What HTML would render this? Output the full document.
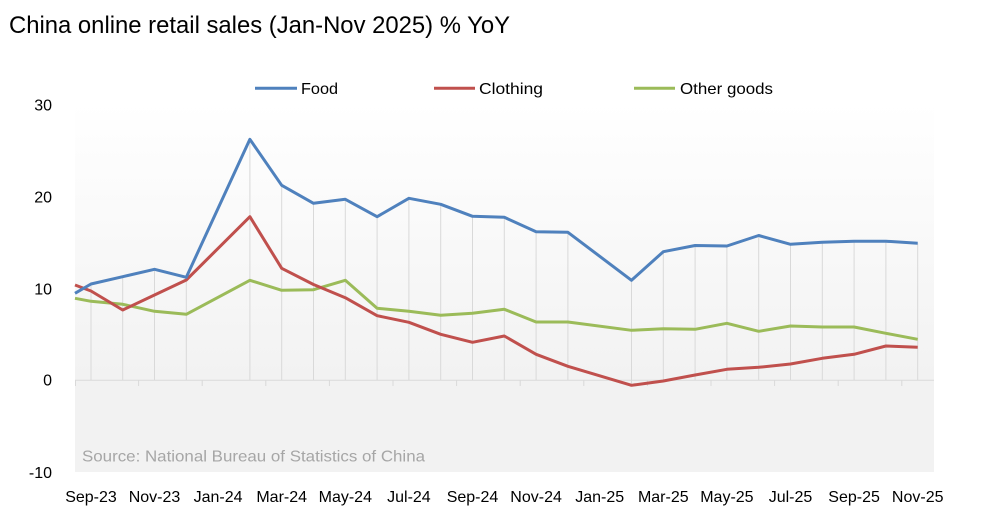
<!DOCTYPE html>
<html>
<head>
<meta charset="utf-8">
<style>
html,body{margin:0;padding:0;background:#fff;}
svg{display:block;}
text{font-family:"Liberation Sans",Arial,sans-serif;}
</style>
</head>
<body>
<svg width="999" height="515" viewBox="0 0 999 515" xmlns="http://www.w3.org/2000/svg">
<defs>
<linearGradient id="bg" x1="0" y1="103" x2="0" y2="380" gradientUnits="userSpaceOnUse">
<stop offset="0" stop-color="#ffffff"/>
<stop offset="1" stop-color="#f2f2f2"/>
</linearGradient>
</defs>
<rect x="0" y="0" width="999" height="515" fill="#fff"/>
<!-- plot area -->
<rect x="75" y="103" width="859" height="278" fill="url(#bg)"/>
<rect x="75" y="380" width="859" height="92" fill="#f2f2f2"/>

<!-- title -->
<text x="9" y="33" font-size="24" fill="#000" textLength="501" lengthAdjust="spacingAndGlyphs">China online retail sales (Jan-Nov 2025) % YoY</text>

<!-- legend -->
<line x1="255" y1="88.3" x2="297" y2="88.3" stroke="#4f81bd" stroke-width="3"/>
<text x="301" y="94" font-size="16" fill="#000" textLength="37" lengthAdjust="spacingAndGlyphs">Food</text>
<line x1="434" y1="88.3" x2="475" y2="88.3" stroke="#c0504d" stroke-width="3"/>
<text x="479" y="94" font-size="16" fill="#000" textLength="64" lengthAdjust="spacingAndGlyphs">Clothing</text>
<line x1="634" y1="88.3" x2="675" y2="88.3" stroke="#9bbb59" stroke-width="3"/>
<text x="680" y="94" font-size="16" fill="#000" textLength="93" lengthAdjust="spacingAndGlyphs">Other goods</text>

<!-- y axis labels -->
<g font-size="16" fill="#000" text-anchor="end">
<text x="52" y="110.7">30</text>
<text x="52" y="202.5">20</text>
<text x="52" y="294.5">10</text>
<text x="52" y="385.7">0</text>
<text x="52" y="478">-10</text>
</g>

<!-- drop lines -->
<g stroke="#d9d9d9" stroke-width="1">
<line x1="91" y1="284" x2="91" y2="380.3"/>
<line x1="122.7" y1="276.7" x2="122.7" y2="380.3"/>
<line x1="154.5" y1="269.3" x2="154.5" y2="380.3"/>
<line x1="186.3" y1="277.3" x2="186.3" y2="380.3"/>
<line x1="249.9" y1="139.3" x2="249.9" y2="380.3"/>
<line x1="281.7" y1="185.3" x2="281.7" y2="380.3"/>
<line x1="313.5" y1="203.3" x2="313.5" y2="380.3"/>
<line x1="345.3" y1="199.3" x2="345.3" y2="380.3"/>
<line x1="377.1" y1="216.7" x2="377.1" y2="380.3"/>
<line x1="408.9" y1="198.3" x2="408.9" y2="380.3"/>
<line x1="440.7" y1="204.3" x2="440.7" y2="380.3"/>
<line x1="472.5" y1="216.3" x2="472.5" y2="380.3"/>
<line x1="504.3" y1="217.3" x2="504.3" y2="380.3"/>
<line x1="536.1" y1="231.7" x2="536.1" y2="380.3"/>
<line x1="567.9" y1="232.3" x2="567.9" y2="380.3"/>
<line x1="631.5" y1="280.3" x2="631.5" y2="385.3"/>
<line x1="663.3" y1="251.7" x2="663.3" y2="381"/>
<line x1="695.1" y1="245.5" x2="695.1" y2="380.3"/>
<line x1="726.9" y1="246" x2="726.9" y2="380.3"/>
<line x1="758.7" y1="235.5" x2="758.7" y2="380.3"/>
<line x1="790.5" y1="244.3" x2="790.5" y2="380.3"/>
<line x1="822.3" y1="242.3" x2="822.3" y2="380.3"/>
<line x1="854.1" y1="241.2" x2="854.1" y2="380.3"/>
<line x1="885.9" y1="241.2" x2="885.9" y2="380.3"/>
<line x1="917.7" y1="243.3" x2="917.7" y2="380.3"/>
</g>

<!-- x axis -->
<g stroke="#d9d9d9" stroke-width="1">
<line x1="75" y1="380.3" x2="934" y2="380.3"/>
<line x1="75.5" y1="380.3" x2="75.5" y2="386"/>
<line x1="138.6" y1="380.3" x2="138.6" y2="386"/>
<line x1="202.2" y1="380.3" x2="202.2" y2="386"/>
<line x1="265.8" y1="380.3" x2="265.8" y2="386"/>
<line x1="329.4" y1="380.3" x2="329.4" y2="386"/>
<line x1="393" y1="380.3" x2="393" y2="386"/>
<line x1="456.6" y1="380.3" x2="456.6" y2="386"/>
<line x1="520.2" y1="380.3" x2="520.2" y2="386"/>
<line x1="583.8" y1="380.3" x2="583.8" y2="386"/>
<line x1="647.4" y1="380.3" x2="647.4" y2="386"/>
<line x1="711" y1="380.3" x2="711" y2="386"/>
<line x1="774.6" y1="380.3" x2="774.6" y2="386"/>
<line x1="838.2" y1="380.3" x2="838.2" y2="386"/>
<line x1="901.8" y1="380.3" x2="901.8" y2="386"/>
</g>

<!-- source -->
<text x="82" y="461.7" font-size="16" fill="#a6a6a6" textLength="343" lengthAdjust="spacingAndGlyphs">Source: National Bureau of Statistics of China</text>

<!-- x labels -->
<g font-size="16" fill="#000" text-anchor="middle">
<text x="91" y="502">Sep-23</text>
<text x="154.5" y="502">Nov-23</text>
<text x="218.1" y="502">Jan-24</text>
<text x="281.7" y="502">Mar-24</text>
<text x="345.3" y="502">May-24</text>
<text x="408.9" y="502">Jul-24</text>
<text x="472.5" y="502">Sep-24</text>
<text x="536.1" y="502">Nov-24</text>
<text x="599.7" y="502">Jan-25</text>
<text x="663.3" y="502">Mar-25</text>
<text x="726.9" y="502">May-25</text>
<text x="790.5" y="502">Jul-25</text>
<text x="854.1" y="502">Sep-25</text>
<text x="917.7" y="502">Nov-25</text>
</g>

<!-- series -->
<g fill="none" stroke-width="3" stroke-linejoin="round" stroke-linecap="butt">
<polyline stroke="#9bbb59" points="75,298.3 91,301.3 122.7,304.3 154.5,311.3 186.3,314.3 249.9,280.3 281.7,290.3 313.5,289.7 345.3,280.3 377.1,308.3 408.9,311.3 440.7,315.3 472.5,313.3 504.3,309.3 536.1,322 567.9,322 631.5,330.3 663.3,328.7 695.1,329.3 726.9,323.3 758.7,331.3 790.5,326 822.3,327 854.1,327 885.9,333.3 917.7,339.3"/>
<polyline stroke="#c0504d" points="75,285 91,291 122.7,310 154.5,295 186.3,280 249.9,216.7 281.7,268.3 313.5,284.5 345.3,297.7 377.1,315.7 408.9,322.3 440.7,334.3 472.5,342.3 504.3,336 536.1,354.3 567.9,366.3 631.5,385.3 663.3,381 695.1,375 726.9,369.3 758.7,367.3 790.5,364 822.3,358.3 854.1,354.3 885.9,346 917.7,347.3"/>
<polyline stroke="#4f81bd" points="75,293.3 91,284 122.7,276.7 154.5,269.3 186.3,277.3 249.9,139.3 281.7,185.3 313.5,203.3 345.3,199.3 377.1,216.7 408.9,198.3 440.7,204.3 472.5,216.3 504.3,217.3 536.1,231.7 567.9,232.3 631.5,280.3 663.3,251.7 695.1,245.5 726.9,246 758.7,235.5 790.5,244.3 822.3,242.3 854.1,241.2 885.9,241.2 917.7,243.3"/>
</g>
</svg>
</body>
</html>
